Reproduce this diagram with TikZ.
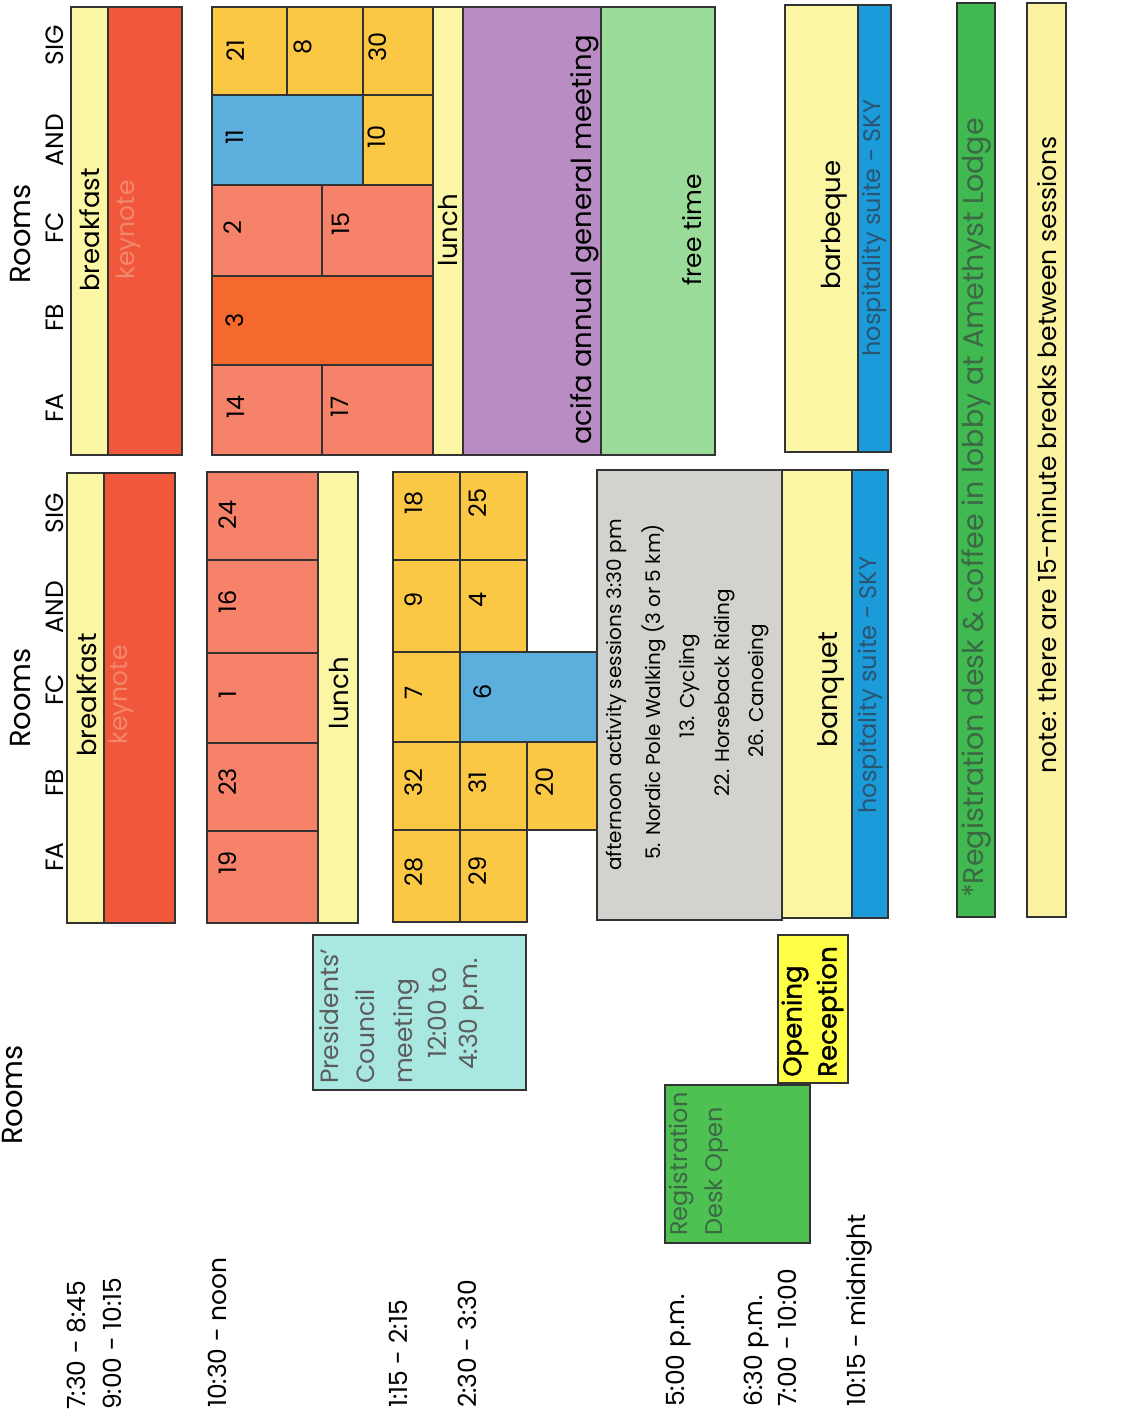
\documentclass[tikz,border=0pt]{standalone}
\usepackage{fontspec}
\setmainfont{Poppins}
\definecolor{edge}{HTML}{333333}
\definecolor{paleyel}{HTML}{FBF6A4}
\definecolor{keyred}{HTML}{F1573B}
\definecolor{keytxt}{HTML}{F2876C}
\definecolor{salmon}{HTML}{F6826A}
\definecolor{orng}{HTML}{F5692F}
\definecolor{gold}{HTML}{FBC845}
\definecolor{skyb}{HTML}{5CAEDC}
\definecolor{purp}{HTML}{B98DC4}
\definecolor{lgreen}{HTML}{9BDB99}
\definecolor{hosp}{HTML}{1B9BDA}
\definecolor{hosptxt}{HTML}{2A5570}
\definecolor{regbar}{HTML}{3FB950}
\definecolor{regtxt}{HTML}{3C6844}
\definecolor{notebar}{HTML}{FCF3A2}
\definecolor{greyb}{HTML}{D3D2CE}
\definecolor{pcyan}{HTML}{A9E8E0}
\definecolor{brightyel}{HTML}{FFFF45}
\definecolor{regbox}{HTML}{4DC152}
\begin{document}
\begin{tikzpicture}[x=1pt,y=-1pt,
  box/.style={draw=edge,line width=1.6pt},
  lbl/.style={rotate=90,inner sep=0pt,font=\fontsize{25}{27}\selectfont},
  rm/.style={rotate=90,inner sep=0pt,font=\fontsize{29}{31}\selectfont},
  num/.style={rotate=90,inner sep=0pt,font=\fontsize{24}{26}\selectfont},
  act/.style={rotate=90,inner sep=0pt,font=\fontsize{20}{22}\selectfont},
  big/.style={rotate=90,inner sep=0pt,font=\fontsize{26}{28}\selectfont},
  hs/.style={rotate=90,inner sep=0pt,text=hosptxt,font=\fontsize{24}{26}\selectfont}]
\useasboundingbox[fill=white] (0,0) rectangle (1141,1416);

% ================= TOP BLOCK =================
\node[rm] (roomsA) at (21,234) {Rooms};
\node[lbl] (faA) at (55,408) {FA};
\node[lbl] (fbA) at (55,318) {FB};
\node[lbl] (fcA) at (55,228) {FC};
\node[lbl] (andA) at (55,140) {AND};
\node[lbl] (sigA) at (55,45) {SIG};

\fill[paleyel] (71,7) rectangle (108,455);
\fill[keyred] (108,7) rectangle (182,455);
\draw[box] (71,7) rectangle (182,455);
\draw[box] (108,7) -- (108,455);
\node[big] (bfA) at (90,230) {breakfast};
\node[lbl,text=keytxt] (kyA) at (128,230) {keynote};

\filldraw[box,fill=gold] (212,7) rectangle (287,95);
\filldraw[box,fill=gold] (287,7) rectangle (363,95);
\filldraw[box,fill=gold] (363,7) rectangle (433,95);
\filldraw[box,fill=skyb] (212,95) rectangle (363,185);
\filldraw[box,fill=gold] (363,95) rectangle (433,185);
\filldraw[box,fill=salmon] (212,185) rectangle (322,276);
\filldraw[box,fill=salmon] (322,185) rectangle (433,276);
\filldraw[box,fill=orng] (212,276) rectangle (433,365);
\filldraw[box,fill=salmon] (212,365) rectangle (322,455);
\filldraw[box,fill=salmon] (322,365) rectangle (433,455);
\node[num] (s21) at (236,51) {21};
\node[num] (s8) at (303,47) {8};
\node[num] (s30) at (378,47) {30};
\node[num] (s11) at (235,137) {11};
\node[num] (s10) at (377,137) {10};
\node[num] (s2) at (233,228) {2};
\node[num] (s15) at (341,224) {15};
\node[num] (s3) at (235,320) {3};
\node[num] (s14) at (236,407) {14};
\node[num] (s17) at (340,407) {17};

\filldraw[box,fill=paleyel] (433,7) rectangle (463,455);
\node[big] (lunchA) at (448,230) {lunch};
\filldraw[box,fill=purp] (463,7) rectangle (601,455);
\node[rotate=90,inner sep=0pt,font=\fontsize{27.5}{29}\selectfont] (agm) at (585,240) {acifa annual general meeting};
\filldraw[box,fill=lgreen] (601,7) rectangle (715,455);
\node[lbl] (free) at (692,230) {free time};

\fill[paleyel] (785,5) rectangle (858,452);
\fill[hosp] (858,5) rectangle (891,452);
\draw[box] (785,5) rectangle (891,452);
\draw[box] (858,5) -- (858,452);
\node[big] (bbq) at (834,225) {barbeque};
\node[hs] (hospA) at (874,228) {hospitality suite - SKY};

\filldraw[box,fill=regbar] (957,3) rectangle (995,917);
\node[rotate=90,inner sep=0pt,text=regtxt,font=\fontsize{28.5}{30}\selectfont] (regnote) at (976,508) {*Registration desk \& coffee in lobby at Amethyst Lodge};
\filldraw[box,fill=notebar] (1027,3) rectangle (1066,917);
\node[lbl] (note) at (1047,455) {note: there are 15-minute breaks between sessions};

% ================= MIDDLE BLOCK =================
\node[rm] (roomsB) at (21,698) {Rooms};
\node[lbl] (faB) at (55,857) {FA};
\node[lbl] (fbB) at (55,783) {FB};
\node[lbl] (fcB) at (55,690) {FC};
\node[lbl] (andB) at (55,607) {AND};
\node[lbl] (sigB) at (55,513) {SIG};

\fill[paleyel] (67,473) rectangle (104,923);
\fill[keyred] (104,473) rectangle (175,923);
\draw[box] (67,473) rectangle (175,923);
\draw[box] (104,473) -- (104,923);
\node[big] (bfB) at (87,695) {breakfast};
\node[lbl,text=keytxt] (kyB) at (121,695) {keynote};

\filldraw[box,fill=salmon] (207,472) rectangle (318,560);
\filldraw[box,fill=salmon] (207,560) rectangle (318,653);
\filldraw[box,fill=salmon] (207,653) rectangle (318,743);
\filldraw[box,fill=salmon] (207,743) rectangle (318,831);
\filldraw[box,fill=salmon] (207,831) rectangle (318,923);
\filldraw[box,fill=paleyel] (318,472) rectangle (358,923);
\node[num] (s24) at (228,515) {24};
\node[num] (s16) at (228,602) {16};
\node[num] (s1) at (228,695) {1};
\node[num] (s23) at (228,782) {23};
\node[num] (s19) at (228,863) {19};
\node[big] (lunchB) at (339,693) {lunch};

\filldraw[box,fill=gold] (393,472) rectangle (460,560);
\filldraw[box,fill=gold] (393,560) rectangle (460,652);
\filldraw[box,fill=gold] (393,652) rectangle (460,742);
\filldraw[box,fill=gold] (393,742) rectangle (460,830);
\filldraw[box,fill=gold] (393,830) rectangle (460,922);
\filldraw[box,fill=gold] (460,472) rectangle (527,560);
\filldraw[box,fill=gold] (460,560) rectangle (527,652);
\filldraw[box,fill=skyb] (460,652) rectangle (597,742);
\filldraw[box,fill=gold] (460,742) rectangle (527,830);
\filldraw[box,fill=gold] (460,830) rectangle (527,922);
\filldraw[box,fill=gold] (527,742) rectangle (597,830);
\node[num] (s18) at (414,503) {18};
\node[num] (s9) at (414,600) {9};
\node[num] (s7) at (414,693) {7};
\node[num] (s32) at (414,783) {32};
\node[num] (s28) at (414,872) {28};
\node[num] (s25) at (478,503) {25};
\node[num] (s4) at (478,600) {4};
\node[num] (s6) at (483,692) {6};
\node[num] (s31) at (478,783) {31};
\node[num] (s29) at (478,871) {29};
\node[num] (s20) at (545,782) {20};

\filldraw[box,fill=greyb] (597,470) rectangle (782,920);
\node[act] (act0) at (616,695) {afternoon activity sessions 3:30 pm};
\node[act] (act1) at (654,692) {5. Nordic Pole Walking (3 or 5 km)};
\node[act] (act2) at (690,686) {13. Cycling};
\node[act] (act3) at (725,693) {22. Horseback Riding};
\node[act] (act4) at (759,691) {26. Canoeing};

\fill[paleyel] (782,470) rectangle (852,918);
\fill[hosp] (852,470) rectangle (888,918);
\draw[box] (782,470) rectangle (888,918);
\draw[box] (852,470) -- (852,918);
\node[rotate=90,inner sep=0pt,font=\fontsize{27}{29}\selectfont] (banq) at (831,690) {banquet};
\node[hs] (hospB) at (870,685) {hospitality suite - SKY};

% ================= BOTTOM AREA =================
\node[rm] (roomsC) at (13,1095) {Rooms};

\filldraw[box,fill=pcyan] (313,935) rectangle (526,1090);
\node[lbl,anchor=west,text=edge!80] (pc1) at (329,1084) {Presidents'};
\node[lbl,anchor=west,text=edge!80] (pc2) at (365,1084) {Council};
\node[lbl,anchor=west,text=edge!80] (pc3) at (406,1084) {meeting};
\node[lbl,anchor=west,text=edge!80] (pc4) at (437,1059) {12:00 to};
\node[lbl,anchor=west,text=edge!80] (pc5) at (472,1070) {4:30 p.m.};

\filldraw[box,fill=regbox] (665,1085) rectangle (810,1243);
\node[rotate=90,inner sep=0pt,anchor=west,text=regtxt,font=\fontsize{24}{26}\selectfont] (rd1) at (682,1236) {Registration};
\node[rotate=90,inner sep=0pt,anchor=west,text=regtxt,font=\fontsize{24}{26}\selectfont] (rd2) at (717,1236) {Desk Open};

\filldraw[box,fill=brightyel] (778,935) rectangle (848,1083);
\node[big,anchor=west,font=\fontsize{26}{28}\selectfont\addfontfeatures{FakeBold=1.2}] (or1) at (795,1077) {Opening};
\node[big,anchor=west,font=\fontsize{26}{28}\selectfont\addfontfeatures{FakeBold=1.2}] (or2) at (830,1077) {Reception};

\node[lbl,anchor=west] (t1) at (77,1410) {7:30 - 8:45};
\node[lbl,anchor=west] (t2) at (112,1410) {9:00 - 10:15};
\node[lbl,anchor=west] (t3) at (217,1408) {10:30 - noon};
\node[lbl,anchor=west] (t4) at (398,1408) {1:15 - 2:15};
\node[lbl,anchor=west] (t5) at (467,1408) {2:30 - 3:30};
\node[lbl,anchor=west] (t6) at (679,1407) {5:00 p.m.};
\node[lbl,anchor=west] (t7) at (757,1407) {6:30 p.m.};
\node[lbl,anchor=west] (t8) at (787,1407) {7:00 - 10:00};
\node[lbl,anchor=west] (t9) at (859,1407) {10:15 - midnight};
\end{tikzpicture}
\end{document}
